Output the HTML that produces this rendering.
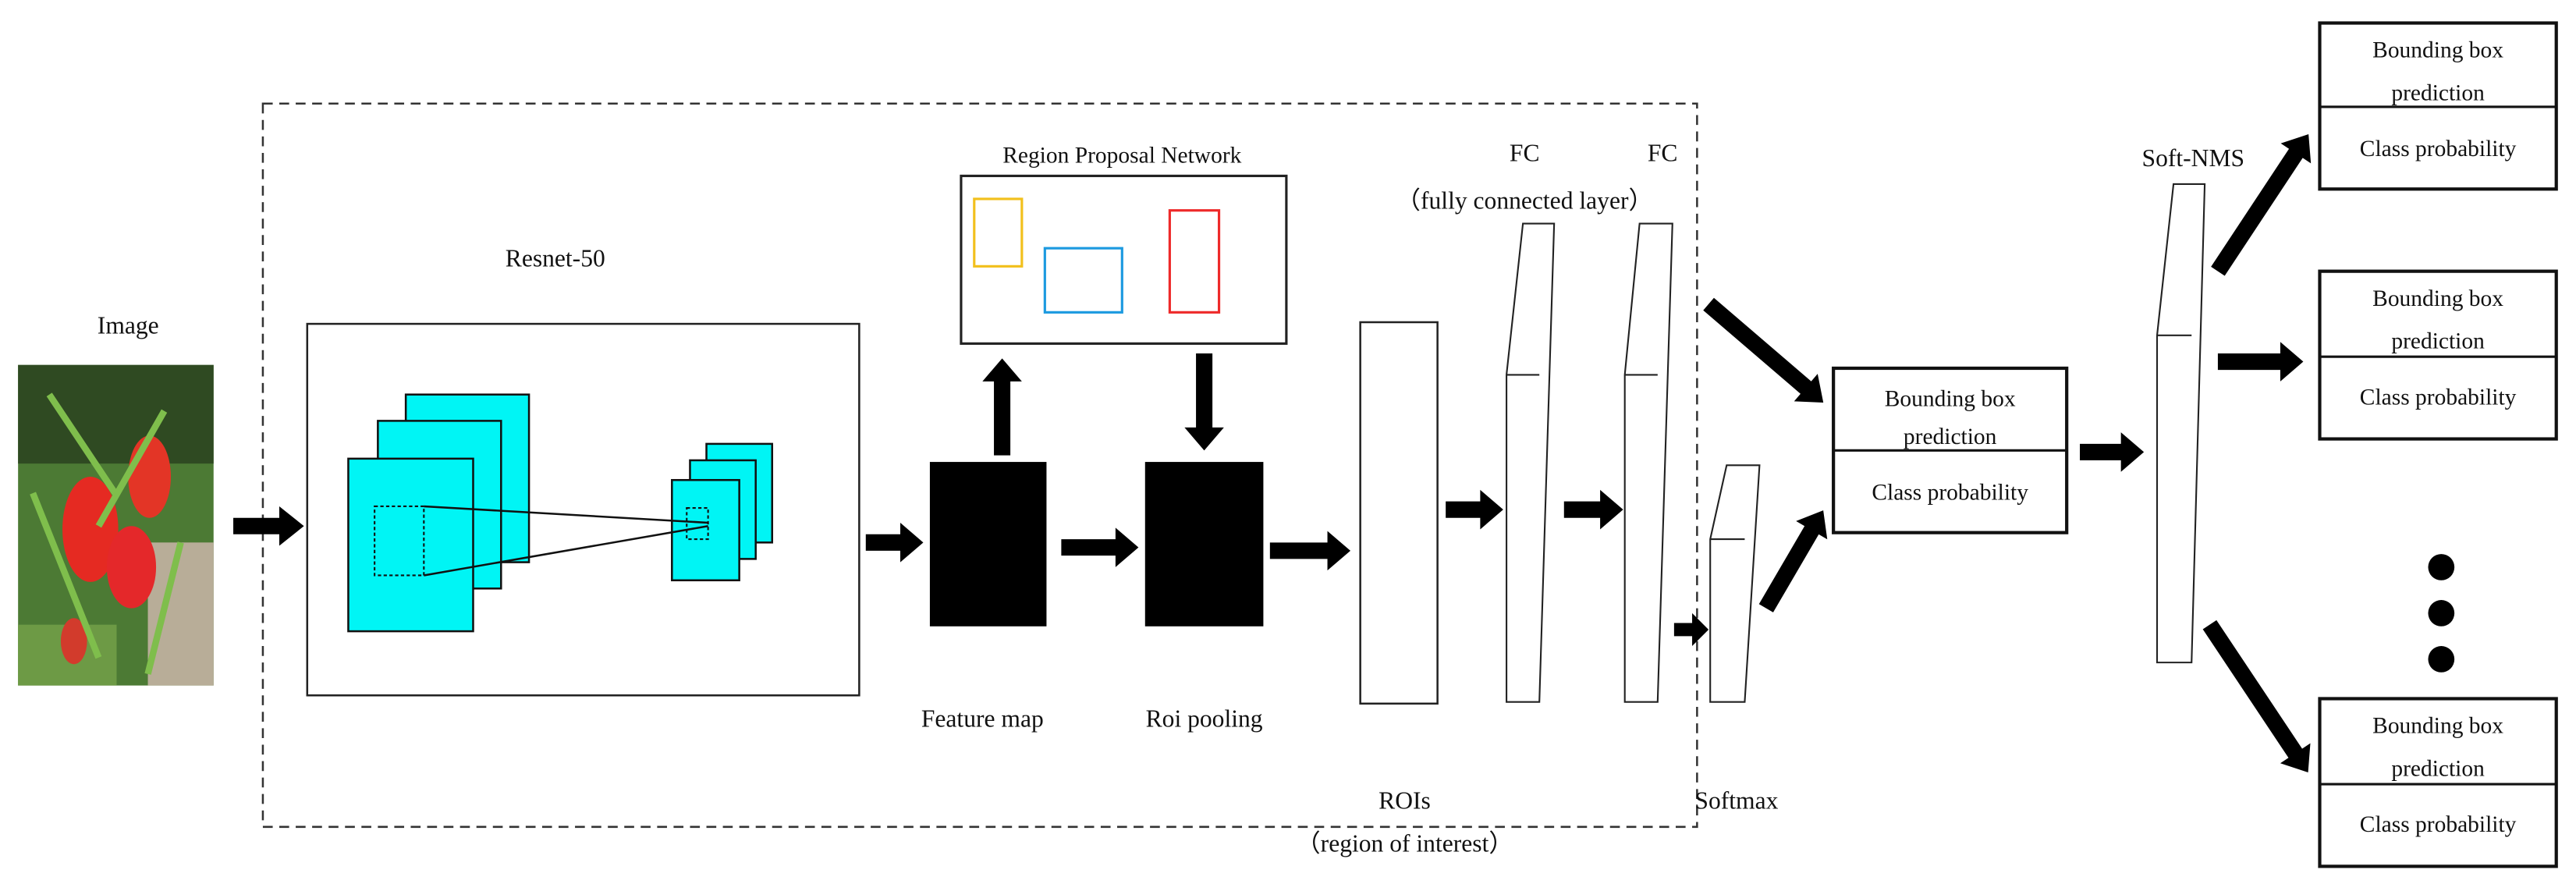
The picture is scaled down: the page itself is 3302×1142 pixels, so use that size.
<!DOCTYPE html>
<html><head><meta charset="utf-8"><style>
html,body{margin:0;padding:0;background:#fff;}
svg{display:block;}
text{font-family:"Liberation Serif",serif;fill:#111;}
</style></head><body>
<svg width="3302" height="1142" viewBox="0 0 1568 542" preserveAspectRatio="none" xmlns="http://www.w3.org/2000/svg">
<defs>
<polygon id="ar" points="0,-5 -14,-5 -14,-11 0,0 -14,11 -14,5 0,5" />
</defs>
<!-- Image -->
<text x="78" y="203" font-size="15" text-anchor="middle">Image</text>
<rect x="11" y="222" width="119" height="195" fill="#4c7a34"/>
<rect x="11" y="222" width="119" height="60" fill="#2f4a22"/>
<rect x="90" y="330" width="40" height="87" fill="#b8ad98"/>
<rect x="11" y="380" width="60" height="37" fill="#6d9a45"/>
<ellipse cx="55" cy="322" rx="17" ry="32" fill="#e52a22"/>
<ellipse cx="91" cy="290" rx="13" ry="25" fill="#e33526"/>
<ellipse cx="80" cy="345" rx="15" ry="25" fill="#e4282a"/>
<ellipse cx="45" cy="390" rx="8" ry="14" fill="#d23b2c"/>
<path d="M30 240 L70 300 M100 250 L60 320 M20 300 L60 400 M110 330 L90 410" stroke="#7fbe4c" stroke-width="4" fill="none"/>
<!-- dashed box -->
<rect x="160" y="63" width="873" height="440" fill="none" stroke="#333" stroke-width="1.2" stroke-dasharray="6,4"/>
<!-- Resnet -->
<text x="338" y="162" font-size="15" text-anchor="middle">Resnet-50</text>
<rect x="187" y="197" width="336" height="226" fill="#fff" stroke="#222" stroke-width="1.2"/>
<g fill="#00f5f5" stroke="#111" stroke-width="1.2">
<rect x="247" y="240" width="75" height="102"/>
<rect x="230" y="256" width="75" height="102"/>
<rect x="212" y="279" width="76" height="105"/>
<rect x="430" y="270" width="40" height="60"/>
<rect x="420" y="280" width="40" height="60"/>
<rect x="409" y="292" width="41" height="61"/>
</g>
<rect x="228" y="308" width="30" height="42" fill="none" stroke="#111" stroke-dasharray="2,1.5"/>
<rect x="418" y="309" width="13" height="19" fill="none" stroke="#111" stroke-dasharray="2,1.5"/>
<path d="M258 308 L431 318 M258 350 L431 320" stroke="#111" stroke-width="1.2" fill="none"/>
<!-- RPN -->
<text x="683" y="99" font-size="14" text-anchor="middle">Region Proposal Network</text>
<rect x="585" y="107" width="198" height="102" fill="#fff" stroke="#222" stroke-width="1.5"/>
<rect x="593" y="121" width="29" height="41" fill="none" stroke="#f2c01c" stroke-width="1.5"/>
<rect x="636" y="151" width="47" height="39" fill="none" stroke="#1c9ae0" stroke-width="1.5"/>
<rect x="712" y="128" width="30" height="62" fill="none" stroke="#ee2a2a" stroke-width="1.5"/>
<!-- black maps -->
<rect x="566" y="281" width="71" height="100" fill="#000"/>
<rect x="697" y="281" width="72" height="100" fill="#000"/>
<text x="598" y="442" font-size="15" text-anchor="middle">Feature map</text>
<text x="733" y="442" font-size="15" text-anchor="middle">Roi pooling</text>
<!-- ROIs -->
<rect x="828" y="196" width="47" height="232" fill="#fff" stroke="#222" stroke-width="1.2"/>
<text x="855" y="492" font-size="15" text-anchor="middle">ROIs</text>
<text x="855" y="518" font-size="15" text-anchor="middle">（region of interest）</text>
<!-- FC prisms -->
<g fill="#fff" stroke="#222" stroke-width="1">
<path d="M917 228 L927 136 L946 136 L937 427 L917 427 Z"/>
<path d="M917 228 L937 228"/>
<path d="M989 228 L998 136 L1018 136 L1009 427 L989 427 Z"/>
<path d="M989 228 L1009 228"/>
<path d="M1041 328 L1051 283 L1071 283 L1062 427 L1041 427 Z"/>
<path d="M1041 328 L1062 328"/>
<path d="M1313 204 L1323 112 L1342 112 L1334 403 L1313 403 Z"/>
<path d="M1313 204 L1334 204"/>
</g>
<text x="928" y="98" font-size="15" text-anchor="middle">FC</text>
<text x="1012" y="98" font-size="15" text-anchor="middle">FC</text>
<text x="928" y="127" font-size="15" text-anchor="middle">（fully connected layer）</text>
<text x="1057" y="492" font-size="15" text-anchor="middle">Softmax</text>
<text x="1335" y="101" font-size="15" text-anchor="middle">Soft-NMS</text>
<!-- middle box -->
<g fill="#fff" stroke="#111" stroke-width="2">
<rect x="1116" y="224" width="142" height="100"/>
<rect x="1412" y="14" width="144" height="101"/>
<rect x="1412" y="165" width="144" height="102"/>
<rect x="1412" y="425" width="144" height="102"/>
</g>
<g stroke="#111" stroke-width="1.5">
<path d="M1116 274 H1258 M1412 65 H1556 M1412 217 H1556 M1412 477 H1556"/>
</g>
<g font-size="14" text-anchor="middle">
<text x="1187" y="247">Bounding box</text><text x="1187" y="270">prediction</text><text x="1187" y="304">Class probability</text>
<text x="1484" y="35">Bounding box</text><text x="1484" y="61">prediction</text><text x="1484" y="95">Class probability</text>
<text x="1484" y="186">Bounding box</text><text x="1484" y="212">prediction</text><text x="1484" y="246">Class probability</text>
<text x="1484" y="446">Bounding box</text><text x="1484" y="472">prediction</text><text x="1484" y="506">Class probability</text>
</g>
<!-- dots -->
<circle cx="1486" cy="345" r="8"/><circle cx="1486" cy="373" r="8"/><circle cx="1486" cy="401" r="8"/>
<!-- arrows -->
<g fill="#000">
<polygon points="142,315 170,315 170,308 185,320 170,332 170,325 142,325"/>
<polygon points="527,325 548,325 548,318 562,330 548,342 548,335 527,335"/>
<polygon points="646,328 679,328 679,321 693,333 679,345 679,338 646,338"/>
<polygon points="773,330 808,330 808,323 822,335 808,347 808,340 773,340"/>
<polygon points="880,305 901,305 901,298 915,310 901,322 901,315 880,315"/>
<polygon points="952,305 974,305 974,298 988,310 974,322 974,315 952,315"/>
<polygon points="1019,379 1030,379 1030,373 1040,383 1030,393 1030,387 1019,387"/>
<polygon points="1266,270 1291,270 1291,263 1305,275 1291,287 1291,280 1266,280"/>
<polygon points="1350,215 1388,215 1388,208 1402,220 1388,232 1388,225 1350,225"/>
<polygon points="605,277 605,232 598,232 610,218 622,232 615,232 615,277"/>
<polygon points="728,215 728,260 721,260 733,274 745,260 738,260 738,215"/>
<g transform="translate(1040,185) rotate(40.6)"><polygon points="0,-5 78,-5 78,-11 92,0 78,11 78,5 0,5"/></g>
<g transform="translate(1075,370) rotate(-59.7)"><polygon points="0,-5 55,-5 55,-11 69,0 55,11 55,5 0,5"/></g>
<g transform="translate(1350,165) rotate(-56.5)"><polygon points="0,-5 86,-5 86,-11 100,0 86,11 86,5 0,5"/></g>
<g transform="translate(1345,380) rotate(56.3)"><polygon points="0,-5 94,-5 94,-11 108,0 94,11 94,5 0,5"/></g>
</g>
</svg>
</body></html>
